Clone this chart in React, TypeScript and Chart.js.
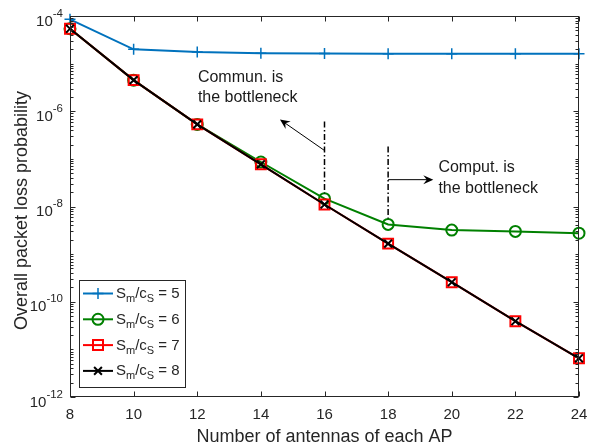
import React, { useEffect, useRef } from 'react';
import { Chart, registerables } from 'chart.js';

Chart.register(...registerables);

// ---------------- data ----------------
const antennas = [8, 10, 12, 14, 16, 18, 20, 22, 24];
const ratios = ['5', '6', '7', '8'];
const lossRatio5 = [8.5e-5, 2.0e-5, 1.75e-5, 1.65e-5, 1.63e-5, 1.62e-5, 1.62e-5, 1.62e-5, 1.62e-5];
const lossRatio6 = [5.4e-5, 4.5e-6, 5.3e-7, 8.6e-8, 1.46e-8, 4.2e-9, 3.2e-9, 3.0e-9, 2.75e-9];
const lossRatio7 = [5.4e-5, 4.5e-6, 5.3e-7, 7.7e-8, 1.1e-8, 1.66e-9, 2.57e-10, 3.9e-11, 6.5e-12];
const lossRatio8 = [5.4e-5, 4.5e-6, 5.3e-7, 7.7e-8, 1.1e-8, 1.66e-9, 2.57e-10, 3.9e-11, 6.5e-12];
const xTicks = [8, 10, 12, 14, 16, 18, 20, 22, 24];
const yTickExponents = [-4, -6, -8, -10, -12];
const xTitle = 'Number of antennas of each AP';
const yTitle = 'Overall packet loss probability';

const FONT = '"Liberation Sans", Arial, Helvetica, sans-serif';
const AX = '#262626';
const colors = ['#0072BD', '#008000', '#FF0000', '#000000'];

function drawArrow(ctx: CanvasRenderingContext2D, x0: number, y0: number, x1: number, y1: number) {
  ctx.save();
  ctx.strokeStyle = '#000';
  ctx.fillStyle = '#000';
  ctx.lineWidth = 1;
  const ang = Math.atan2(y1 - y0, x1 - x0);
  ctx.beginPath();
  ctx.moveTo(x0, y0);
  ctx.lineTo(x1 - Math.cos(ang) * 5, y1 - Math.sin(ang) * 5);
  ctx.stroke();
  ctx.translate(x1, y1);
  ctx.rotate(ang);
  ctx.beginPath();
  ctx.moveTo(0, 0);
  ctx.lineTo(-10, -4.5);
  ctx.lineTo(-6.5, 0);
  ctx.lineTo(-10, 4.5);
  ctx.closePath();
  ctx.fill();
  ctx.restore();
}

function drawMarker(ctx: CanvasRenderingContext2D, idx: number, x: number, y: number) {
  ctx.save();
  ctx.strokeStyle = colors[idx];
  ctx.beginPath();
  if (idx === 0) {
    ctx.lineWidth = 1.5;
    ctx.moveTo(x - 5.5, y); ctx.lineTo(x + 5.5, y);
    ctx.moveTo(x, y - 5.5); ctx.lineTo(x, y + 5.5);
  } else if (idx === 1) {
    ctx.lineWidth = 2;
    ctx.arc(x, y, 5.5, 0, Math.PI * 2);
  } else if (idx === 2) {
    ctx.lineWidth = 2;
    ctx.rect(x - 5, y - 5, 10, 10);
  } else {
    ctx.lineWidth = 2;
    ctx.moveTo(x - 3.9, y - 3.9); ctx.lineTo(x + 3.9, y + 3.9);
    ctx.moveTo(x + 3.9, y - 3.9); ctx.lineTo(x - 3.9, y + 3.9);
  }
  ctx.stroke();
  ctx.restore();
}

const decorPlugin = {
  id: 'decor',
  afterDatasetsDraw(chart: any) {
    const ctx: CanvasRenderingContext2D = chart.ctx;
    const xs = chart.scales.x;
    const ys = chart.scales.y;
    const { left, right, top, bottom } = chart.chartArea;
    const L = Math.round(left) + 0.5, R = Math.round(right) - 0.5;
    const T = Math.round(top) + 0.5, B = Math.round(bottom) - 0.5;
    ctx.save();

    // --- annotations ---
    ctx.strokeStyle = '#000';
    ctx.lineWidth = 1.5;
    ctx.setLineDash([6, 2.5, 1.5, 2.5]);
    const v1x = xs.getPixelForValue(16);
    ctx.beginPath();
    ctx.moveTo(v1x, ys.getPixelForValue(6.1e-7));
    ctx.lineTo(v1x, ys.getPixelForValue(1.88e-8));
    ctx.stroke();
    const v2x = xs.getPixelForValue(18);
    ctx.beginPath();
    ctx.moveTo(v2x, ys.getPixelForValue(1.83e-7));
    ctx.lineTo(v2x, ys.getPixelForValue(5.6e-9));
    ctx.stroke();
    ctx.setLineDash([]);
    drawArrow(ctx, v1x, ys.getPixelForValue(1.5e-7), xs.getPixelForValue(14.6), ys.getPixelForValue(6.7e-7));
    drawArrow(ctx, v2x, ys.getPixelForValue(3.66e-8), xs.getPixelForValue(19.42), ys.getPixelForValue(3.66e-8));

    ctx.fillStyle = '#1a1a1a';
    ctx.font = `16px ${FONT}`;
    ctx.textAlign = 'left';
    ctx.textBaseline = 'alphabetic';
    const t1x = xs.getPixelForValue(12.02), t1y = ys.getPixelForValue(4.1e-6);
    ctx.fillText('Commun. is', t1x, t1y);
    ctx.fillText('the bottleneck', t1x, t1y + 20);
    const t2x = xs.getPixelForValue(19.58), t2y = ys.getPixelForValue(5.3e-8);
    ctx.fillText('Comput. is', t2x, t2y);
    ctx.fillText('the bottleneck', t2x, t2y + 20.5);

    // --- axes box ---
    ctx.strokeStyle = AX;
    ctx.lineWidth = 1;
    ctx.strokeRect(L, T, R - L, B - T);

    // x ticks
    ctx.beginPath();
    for (const v of xTicks) {
      const px = Math.round(xs.getPixelForValue(v)) + 0.5;
      ctx.moveTo(px, B); ctx.lineTo(px, B - 5);
      ctx.moveTo(px, T); ctx.lineTo(px, T + 5);
    }
    // y ticks (log)
    for (let k = -12; k <= -4; k++) {
      for (let m = 1; m <= 9; m++) {
        if (k === -4 && m > 1) break;
        const v = m * Math.pow(10, k);
        const py = Math.round(ys.getPixelForValue(v)) + 0.5;
        const major = m === 1 && yTickExponents.includes(k);
        const len = major ? 5 : 3;
        ctx.moveTo(L, py); ctx.lineTo(L + len, py);
        ctx.moveTo(R, py); ctx.lineTo(R - len, py);
      }
    }
    ctx.stroke();

    // x tick labels
    ctx.fillStyle = AX;
    ctx.font = `15px ${FONT}`;
    ctx.textAlign = 'center';
    for (const v of xTicks) {
      ctx.fillText(String(v), xs.getPixelForValue(v), bottom + 22);
    }
    // y tick labels
    for (const e of yTickExponents) {
      const py = ys.getPixelForValue(Math.pow(10, e));
      ctx.font = `11.5px ${FONT}`;
      const es = String(e);
      const ew = ctx.measureText(es).width;
      ctx.font = `15px ${FONT}`;
      const bw = ctx.measureText('10').width;
      const xr = left - 7;
      ctx.textAlign = 'left';
      ctx.fillText('10', xr - ew - bw, py + 9.5);
      ctx.font = `11.5px ${FONT}`;
      ctx.fillText(es, xr - ew, py + 0.5);
    }
    // titles
    ctx.font = `18px ${FONT}`;
    ctx.textAlign = 'center';
    ctx.fillText(xTitle, (left + right) / 2, 441.5);
    ctx.save();
    ctx.translate(26.5, (top + bottom) / 2 + 4);
    ctx.rotate(-Math.PI / 2);
    ctx.fillText(yTitle, 0, 0);
    ctx.restore();

    // --- legend ---
    const lx = 79.5, ly = 280.5, lw = 106, lh = 107;
    ctx.fillStyle = '#fff';
    ctx.fillRect(lx, ly, lw, lh);
    ctx.strokeStyle = AX;
    ctx.lineWidth = 1;
    ctx.strokeRect(lx, ly, lw, lh);
    ratios.forEach((r, i) => {
      const cy = 293.5 + i * 25.8;
      ctx.strokeStyle = colors[i];
      ctx.lineWidth = 2;
      ctx.beginPath();
      ctx.moveTo(83, cy); ctx.lineTo(113, cy);
      ctx.stroke();
      drawMarker(ctx, i, 98, cy);
      ctx.fillStyle = AX;
      ctx.textAlign = 'left';
      let x = 116;
      const base = cy + 4.5;
      const parts: [string, string, number][] = [
        ['S', `15px ${FONT}`, 0],
        ['m', `11px ${FONT}`, 4],
        ['/c', `15px ${FONT}`, 0],
        ['S', `11px ${FONT}`, 4],
        [' = ' + r, `15px ${FONT}`, 0],
      ];
      for (const [t, f, dy] of parts) {
        ctx.font = f;
        ctx.fillText(t, x, base + dy);
        x += ctx.measureText(t).width;
      }
    });
    ctx.restore();
  },
};

export default function App() {
  const ref = useRef<HTMLCanvasElement>(null);
  useEffect(() => {
    document.body.style.margin = '0';
    const canvas = ref.current!;
    const mk = (vals: number[]) => antennas.map((x, i) => ({ x, y: vals[i] }));
    const chart = new Chart(canvas, {
      type: 'line',
      data: {
        datasets: [
          {
            label: 'S_m/c_S = ' + ratios[0], data: mk(lossRatio5), borderColor: colors[0], backgroundColor: colors[0],
            pointStyle: 'cross', pointRadius: 5.5, pointBorderWidth: 1.5, borderWidth: 2, order: 4,
          },
          {
            label: 'S_m/c_S = ' + ratios[1], data: mk(lossRatio6), borderColor: colors[1], backgroundColor: 'rgba(0,0,0,0)',
            pointStyle: 'circle', pointRadius: 5.5, pointBorderWidth: 2, borderWidth: 2, order: 3,
          },
          {
            label: 'S_m/c_S = ' + ratios[2], data: mk(lossRatio7), borderColor: colors[2], backgroundColor: 'rgba(0,0,0,0)',
            pointStyle: 'rect', pointRadius: 7, pointBorderWidth: 2, borderWidth: 2, order: 2,
          },
          {
            label: 'S_m/c_S = ' + ratios[3], data: mk(lossRatio8), borderColor: colors[3], backgroundColor: colors[3],
            pointStyle: 'crossRot', pointRadius: 5.5, pointBorderWidth: 2, borderWidth: 2, order: 1,
          },
        ] as any,
      },
      options: {
        responsive: false,
        animation: false,
        events: [],
        clip: false as any,
        elements: { line: { tension: 0 } },
        layout: { padding: { left: 70, right: 10, top: 16, bottom: 48 } },
        scales: {
          x: { type: 'linear', min: 8, max: 24, display: false },
          y: { type: 'logarithmic', min: 1e-12, max: 1e-4, display: false },
        },
        plugins: { legend: { display: false }, tooltip: { enabled: false } },
      },
      plugins: [decorPlugin],
    });
    return () => chart.destroy();
  }, []);
  return (
    <div style={{ width: 589, height: 445, background: '#fff' }}>
      <canvas ref={ref} width={589} height={445} style={{ display: 'block' }} />
    </div>
  );
}
